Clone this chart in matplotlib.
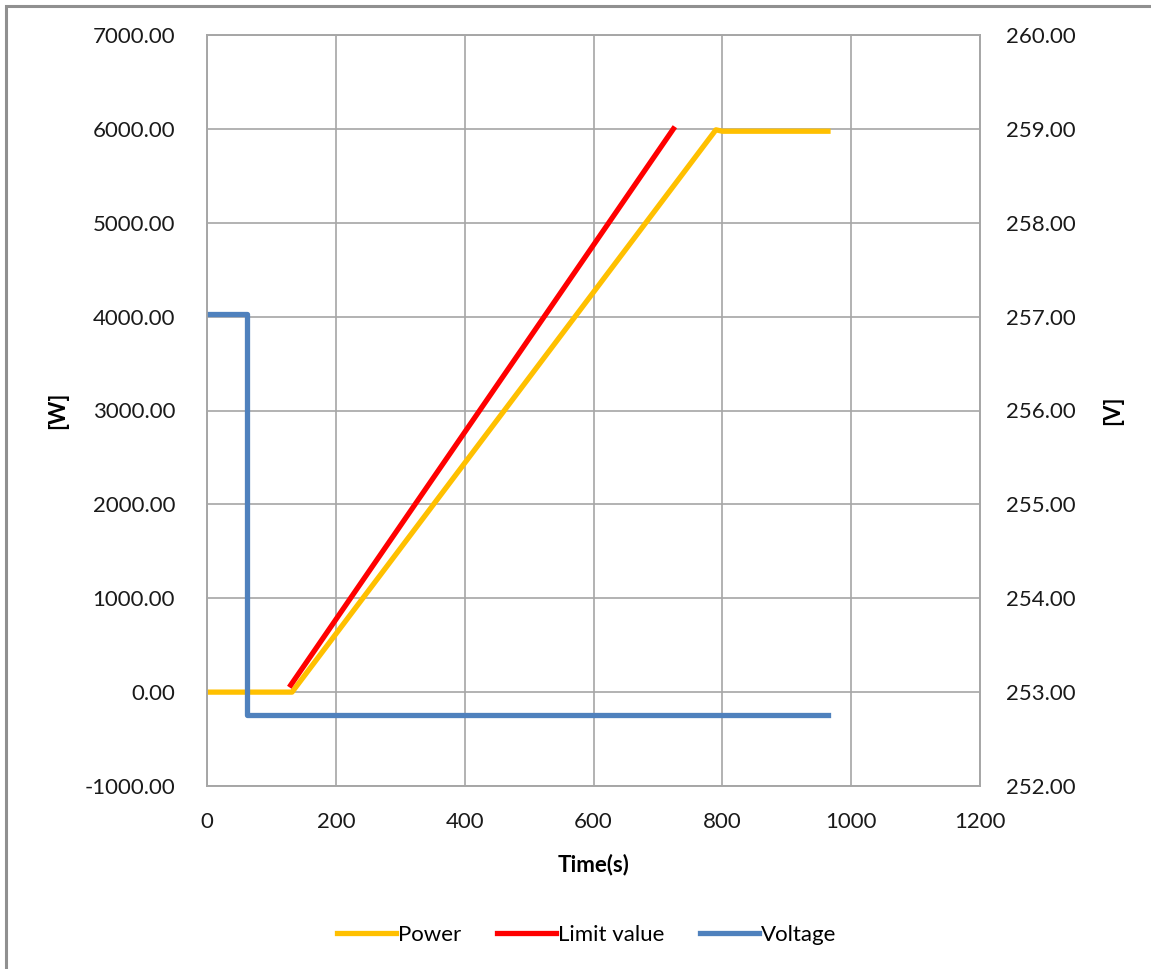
import matplotlib.pyplot as plt
from matplotlib.patches import Rectangle

plt.rcParams['font.family'] = ['Lato', 'DejaVu Sans']

# Power [W]
power_t = [0, 132, 790, 800, 964]
power_w = [0, 0, 5990, 5975, 5975]

# Limit value [W]
limit_t = [130, 724]
limit_w = [75, 6000]

# Voltage [V]
volt_t = [0, 62, 62, 964]
volt_v = [257.03, 257.03, 252.76, 252.76]

fig = plt.figure(figsize=(11.51, 9.69), dpi=100)
W, H = 1151, 969
ax = fig.add_axes([207 / W, (H - 786) / H, (980 - 207) / W, (786 - 35) / H])
ax2 = ax.twinx()

# outer chart frame
fig.patches.append(Rectangle((6 / W, -0.1), 1.2, (H - 6) / H + 0.1, transform=fig.transFigure,
                             fill=False, edgecolor='#909090', linewidth=2.2))

grid_c = '#a6a6a6'
fs = 16
ax.plot(power_t, power_w, color='#ffc000', lw=3.8, label='Power', solid_joinstyle='round')
ax.plot(limit_t, limit_w, color='#ff0000', lw=3.8, label='Limit value')
ax2.plot(volt_t, volt_v, color='#4f81bd', lw=3.8, label='Voltage', solid_joinstyle='round')

ax.set_xlim(0, 1200)
ax.set_ylim(-1000, 7000)
ax2.set_ylim(252, 260)
ax.set_xticks(range(0, 1201, 200))
ax.set_yticks(range(-1000, 7001, 1000))
ax2.set_yticks(range(252, 261))
ax.yaxis.set_major_formatter(lambda v, p: f'{v:.2f}')
ax2.yaxis.set_major_formatter(lambda v, p: f'{v:.2f}')

ax.grid(True, color=grid_c, lw=1.2)
ax.set_axisbelow(True)
for a in (ax, ax2):
    for s in a.spines.values():
        s.set_color(grid_c)
        s.set_linewidth(1.2)
    a.tick_params(length=0, labelsize=fs, colors='#1a1a1a')
ax.tick_params(axis='y', pad=23)
ax2.tick_params(axis='y', pad=19)
ax.tick_params(axis='x', pad=19)

ax.set_xlabel('Time(s)', fontsize=fs, fontweight='bold', labelpad=15)
ax.set_ylabel('[W]', fontsize=fs, fontweight='bold', labelpad=12)
ax2.set_ylabel('[V]', fontsize=fs, fontweight='bold', labelpad=19)

h1, l1 = ax.get_legend_handles_labels()
h2, l2 = ax2.get_legend_handles_labels()
fig.legend(h1 + h2, l1 + l2, loc='center', bbox_to_anchor=(587 / W, (H - 935) / H), ncol=3,
           frameon=False, fontsize=fs, handlelength=2.65, handletextpad=0.1, columnspacing=1.6)

fig.savefig('out.png', dpi=100)
